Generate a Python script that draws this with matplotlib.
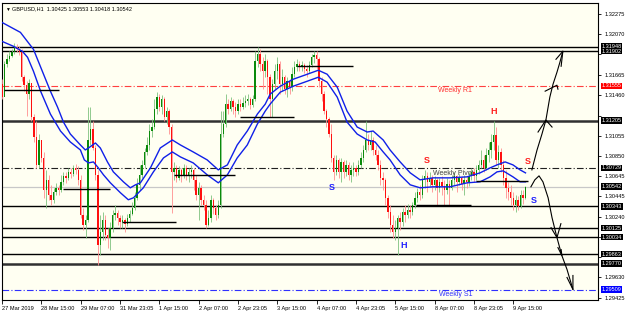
import numpy as np
import matplotlib
matplotlib.use('Agg')
import matplotlib.pyplot as plt
from matplotlib.transforms import blended_transform_factory

plt.rcParams['font.family'] = ['Liberation Sans', 'DejaVu Sans']

# ── data (GBPUSD H1) ──────────────────────────────────────────────────────────
first_open = 1.3157
close = [1.3144, 1.3177, 1.3182, 1.3185, 1.3189, 1.3194, 1.3192, 1.3189, 1.3164, 1.3156,
         1.3147, 1.3158, 1.3124, 1.3104, 1.3076, 1.3101, 1.3083, 1.3051, 1.3061, 1.3046,
         1.3041, 1.3049, 1.3053, 1.3051, 1.3059, 1.3065, 1.3063, 1.3069, 1.3067, 1.3073,
         1.3071, 1.3061, 1.3026, 1.3016, 1.3021, 1.3101, 1.3112, 1.3093, 1.3066, 1.2996,
         1.3009, 1.3021, 1.3006, 1.3003, 1.3013, 1.3026, 1.3028, 1.3023, 1.3019, 1.3021,
         1.3017, 1.3023, 1.3027, 1.3033, 1.3043, 1.3056, 1.3066, 1.3076, 1.3089, 1.3096,
         1.3110, 1.3114, 1.3132, 1.3144, 1.3134, 1.3142, 1.3124, 1.3130, 1.3114, 1.3069,
         1.3073, 1.3063, 1.3071, 1.3066, 1.3073, 1.3065, 1.3069, 1.3071, 1.3061, 1.3046,
         1.3053, 1.3041, 1.3036, 1.3016, 1.3023, 1.3041, 1.3033, 1.3026, 1.3036, 1.3107,
         1.3117, 1.3137, 1.3132, 1.3140, 1.3134, 1.3130, 1.3137, 1.3134, 1.3138, 1.3140,
         1.3142, 1.3136, 1.3142, 1.3180, 1.3187, 1.3177, 1.3170, 1.3180, 1.3164, 1.3142,
         1.3157, 1.3170, 1.3177, 1.3157, 1.3164, 1.3152, 1.3160, 1.3154, 1.3167, 1.3174,
         1.3177, 1.3174, 1.3176, 1.3172, 1.3170, 1.3176, 1.3184, 1.3186, 1.3182, 1.3160,
         1.3147, 1.3130, 1.3122, 1.3107, 1.3083, 1.3069, 1.3081, 1.3069, 1.3079, 1.3069,
         1.3076, 1.3066, 1.3071, 1.3073, 1.3069, 1.3076, 1.3083, 1.3091, 1.3101, 1.3096,
         1.3101, 1.3091, 1.3086, 1.3076, 1.3063, 1.3061, 1.3043, 1.3029, 1.3016, 1.3009,
         1.3013, 1.3023, 1.3019, 1.3029, 1.3026, 1.3031, 1.3029, 1.3036, 1.3043, 1.3049,
         1.3046, 1.3061, 1.3065, 1.3059, 1.3063, 1.3056, 1.3061, 1.3053, 1.3059, 1.3055,
         1.3051, 1.3057, 1.3053, 1.3061, 1.3065, 1.3059, 1.3063, 1.3057, 1.3061, 1.3059,
         1.3065, 1.3069, 1.3065, 1.3071, 1.3076, 1.3081, 1.3073, 1.3086, 1.3091, 1.3099,
         1.3106, 1.3081, 1.3089, 1.3076, 1.3063, 1.3053, 1.3049, 1.3043, 1.3036, 1.3041,
         1.3035, 1.3046, 1.30425, 1.30542]
high = [1.3162, 1.3180, 1.3187, 1.3190, 1.3192, 1.3198, 1.3197, 1.3195, 1.3192, 1.3166,
        1.3160, 1.3162, 1.3158, 1.3127, 1.3120, 1.3107, 1.3101, 1.3089, 1.3071, 1.3066,
        1.3056, 1.3053, 1.3058, 1.3056, 1.3066, 1.3069, 1.3069, 1.3073, 1.3073, 1.3076,
        1.3077, 1.3075, 1.3066, 1.3033, 1.3026, 1.3134, 1.3134, 1.3120, 1.3096, 1.3071,
        1.3026, 1.3029, 1.3026, 1.3013, 1.3019, 1.3031, 1.3036, 1.3031, 1.3026, 1.3026,
        1.3023, 1.3027, 1.3031, 1.3039, 1.3049, 1.3063, 1.3076, 1.3081, 1.3093, 1.3104,
        1.3117, 1.3122, 1.3142, 1.3149, 1.3147, 1.3146, 1.3144, 1.3134, 1.3132, 1.3117,
        1.3079, 1.3076, 1.3075, 1.3073, 1.3077, 1.3076, 1.3073, 1.3076, 1.3073, 1.3066,
        1.3059, 1.3056, 1.3046, 1.3041, 1.3031, 1.3046, 1.3043, 1.3036, 1.3041, 1.3130,
        1.3130, 1.3147, 1.3142, 1.3144, 1.3142, 1.3139, 1.3142, 1.3142, 1.3144, 1.3146,
        1.3147, 1.3144, 1.3146, 1.3190, 1.3194, 1.3192, 1.3184, 1.3187, 1.3182, 1.3167,
        1.3162, 1.3177, 1.3184, 1.3180, 1.3172, 1.3166, 1.3164, 1.3162, 1.3174, 1.3180,
        1.3182, 1.3180, 1.3180, 1.3178, 1.3176, 1.3180, 1.3187, 1.3190, 1.3190, 1.3184,
        1.3164, 1.3150, 1.3132, 1.3124, 1.3117, 1.3086, 1.3086, 1.3083, 1.3083, 1.3081,
        1.3081, 1.3079, 1.3076, 1.3079, 1.3076, 1.3081, 1.3089, 1.3096, 1.3120, 1.3107,
        1.3110, 1.3104, 1.3096, 1.3091, 1.3081, 1.3069, 1.3063, 1.3046, 1.3036, 1.3026,
        1.3021, 1.3026, 1.3029, 1.3033, 1.3036, 1.3037, 1.3036, 1.3039, 1.3049, 1.3053,
        1.3056, 1.3066, 1.3071, 1.3069, 1.3069, 1.3066, 1.3065, 1.3063, 1.3063, 1.3065,
        1.3061, 1.3063, 1.3061, 1.3066, 1.3069, 1.3066, 1.3067, 1.3065, 1.3066, 1.3065,
        1.3069, 1.3073, 1.3073, 1.3076, 1.3081, 1.3091, 1.3086, 1.3093, 1.3099, 1.3107,
        1.3120, 1.3114, 1.3096, 1.3093, 1.3081, 1.3071, 1.3059, 1.3056, 1.3049, 1.3046,
        1.3045, 1.3051, 1.3051, 1.30553]
low = [1.3142, 1.3147, 1.3174, 1.3180, 1.3184, 1.3187, 1.3189, 1.3186, 1.3160, 1.3150,
       1.3125, 1.3142, 1.3120, 1.3099, 1.3073, 1.3073, 1.3079, 1.3043, 1.3033, 1.3041,
       1.3036, 1.3038, 1.3046, 1.3046, 1.3049, 1.3056, 1.3058, 1.3061, 1.3063, 1.3065,
       1.3067, 1.3056, 1.3023, 1.3011, 1.3003, 1.3019, 1.3096, 1.3091, 1.3061, 1.2976,
       1.2986, 1.3001, 1.3001, 1.2993, 1.2991, 1.3009, 1.3021, 1.3016, 1.3013, 1.3013,
       1.3009, 1.3015, 1.3019, 1.3026, 1.3031, 1.3041, 1.3051, 1.3063, 1.3073, 1.3086,
       1.3091, 1.3104, 1.3112, 1.3127, 1.3130, 1.3127, 1.3120, 1.3117, 1.3107, 1.3028,
       1.3061, 1.3059, 1.3061, 1.3059, 1.3063, 1.3061, 1.3059, 1.3063, 1.3051, 1.3041,
       1.3021, 1.3036, 1.3031, 1.3013, 1.3015, 1.3019, 1.3027, 1.3021, 1.3023, 1.3033,
       1.3104, 1.3114, 1.3127, 1.3130, 1.3127, 1.3124, 1.3127, 1.3130, 1.3132, 1.3134,
       1.3136, 1.3132, 1.3134, 1.3140, 1.3174, 1.3170, 1.3152, 1.3164, 1.3147, 1.3124,
       1.3124, 1.3152, 1.3162, 1.3147, 1.3150, 1.3147, 1.3144, 1.3147, 1.3150, 1.3164,
       1.3170, 1.3170, 1.3170, 1.3168, 1.3164, 1.3168, 1.3174, 1.3178, 1.3172, 1.3154,
       1.3140, 1.3127, 1.3114, 1.3104, 1.3079, 1.3061, 1.3066, 1.3063, 1.3059, 1.3063,
       1.3065, 1.3061, 1.3059, 1.3065, 1.3065, 1.3066, 1.3073, 1.3079, 1.3089, 1.3091,
       1.3091, 1.3086, 1.3081, 1.3071, 1.3056, 1.3051, 1.3036, 1.3023, 1.3009, 1.3003,
       1.3001, 1.2986, 1.3011, 1.3015, 1.3019, 1.3023, 1.3023, 1.3026, 1.3033, 1.3039,
       1.3041, 1.3043, 1.3053, 1.3049, 1.3055, 1.3049, 1.3051, 1.3036, 1.3049, 1.3046,
       1.3036, 1.3047, 1.3036, 1.3051, 1.3056, 1.3049, 1.3056, 1.3051, 1.3046, 1.3053,
       1.3055, 1.3061, 1.3059, 1.3061, 1.3067, 1.3073, 1.3069, 1.3071, 1.3079, 1.3083,
       1.3091, 1.3076, 1.3073, 1.3069, 1.3056, 1.3043, 1.3041, 1.3036, 1.3031, 1.3029,
       1.3031, 1.3033, 1.3037, 1.30418]

# envelope (two moving averages) at these bar positions
up_ma_bar = [0, 7.5, 12.8, 16.9, 19.7, 22.6, 25.0, 27.8, 31.9, 33.9, 35.2, 38.0, 40.0, 42.9,
             45.3, 49.4, 52.2, 54.3, 56.3, 60.4, 64.4, 69.3, 72.6, 77.8, 83.5, 88.0, 91.7,
             95.7, 99.8, 103.9, 107.1, 109.1, 113.2, 118.5, 124.2, 128.7, 132.3, 136.4,
             140.4, 144.5, 148.6, 151.0, 155.1, 157.9, 162.0, 166.1, 170.1, 175.4, 182.3,
             189.2, 194.5, 198.6, 201.4, 204.7, 207.9, 210.8, 213.0]
up_ma = [1.3219, 1.3209, 1.3192, 1.3167, 1.3150, 1.3134, 1.3119, 1.3107, 1.3096, 1.3091,
         1.3093, 1.3098, 1.3093, 1.3079, 1.3069, 1.3059, 1.3053, 1.3056, 1.3058, 1.3073,
         1.3093, 1.3101, 1.3096, 1.3089, 1.3081, 1.3071, 1.3076, 1.3096, 1.3110, 1.3127,
         1.3137, 1.3147, 1.3155, 1.3162, 1.3167, 1.3171, 1.3167, 1.3154, 1.3130, 1.3114,
         1.3109, 1.3110, 1.3101, 1.3091, 1.3079, 1.3068, 1.3061, 1.3063, 1.3063, 1.3064,
         1.3068, 1.3073, 1.3076, 1.3079, 1.3076, 1.3071, 1.3068]
lo_ma_bar = [0, 4.7, 8.3, 10.4, 12.8, 15.7, 19.7, 23.8, 27.8, 31.9, 33.5, 35.2, 37.2, 39.2,
             41.3, 44.1, 48.2, 51.4, 53.5, 57.5, 61.6, 65.7, 69.3, 72.6, 77.8, 83.5, 88.0,
             91.7, 95.7, 99.8, 103.9, 107.1, 109.1, 113.2, 118.5, 124.2, 128.7, 132.3, 136.4,
             140.4, 144.5, 148.6, 151.8, 155.1, 157.9, 162.0, 166.1, 170.1, 175.4, 182.3,
             189.2, 194.5, 198.6, 201.4, 203.9, 207.9, 210.8, 213.0]
lo_ma = [1.3200, 1.3195, 1.3190, 1.3184, 1.3170, 1.3150, 1.3127, 1.3110, 1.3099, 1.3091,
         1.3081, 1.3078, 1.3079, 1.3073, 1.3066, 1.3058, 1.3048, 1.3041, 1.3043, 1.3053,
         1.3069, 1.3083, 1.3089, 1.3084, 1.3078, 1.3066, 1.3058, 1.3066, 1.3083, 1.3096,
         1.3117, 1.3130, 1.3137, 1.3149, 1.3155, 1.3160, 1.3164, 1.3159, 1.3144, 1.3119,
         1.3107, 1.3101, 1.3099, 1.3089, 1.3081, 1.3066, 1.3056, 1.3053, 1.3054, 1.3054,
         1.3058, 1.3059, 1.3064, 1.3069, 1.3070, 1.3064, 1.3059, 1.3059]

# full-width levels: (price, colour, style, width)
level_price = [1.31948, 1.31902, 1.31555, 1.31205, 1.30729, 1.30542, 1.30343,
               1.30125, 1.30034, 1.29863, 1.29770, 1.29509]
level_color = ['black', 'black', '#ff4040', '#303030', '#202020', '#c8c8c8', 'black',
               'black', 'black', 'black', '#303030', '#3030ff']
level_style = ['-', '-', '-.', '-', '-.', '-', '-', '-', '-', '-', '-', '-.']
level_width = [1.0, 1.0, 0.8, 1.8, 0.8, 0.9, 1.0, 1.0, 1.0, 1.0, 1.8, 0.8]
box_color   = ['black'] * 2 + ['#ff0000'] + ['black'] * 8 + ['#0000ff']

# short segments: start bar, end bar, price
seg_start = [1, 25, 49, 70, 97, 120, 168.5, 193]
seg_end   = [23, 44, 71, 95, 119, 143, 191, 214]
seg_price = [1.3151, 1.3052, 1.3019, 1.3066, 1.3124, 1.3175, 1.3036, 1.3060]

# hand drawn arrows (bar, price)
up_bars   = [215.6, 217.7, 219.7, 221.3, 222.9, 224.2, 225.8, 227.0, 228.2]
up_price  = [1.3071, 1.3091, 1.3107, 1.3121, 1.3144, 1.3157, 1.3169, 1.3179, 1.3190]
dn_bars   = [215.2, 216.8, 218.5, 220.1, 222.2, 223.8, 225.8, 227.8, 229.9, 232.3]
dn_price  = [1.3054, 1.3061, 1.3065, 1.3059, 1.3043, 1.3023, 1.3003, 1.2985, 1.2971, 1.2951]
head_bars  = [221.3, 225.8, 228.2, 225.8, 227.8, 232.3]
head_price = [1.3121, 1.3156, 1.3190, 1.3003, 1.2985, 1.2951]
barb_bars  = [(218.1, 223.8), (221.0, 226.2), (225.4, 227.5),
              (223.4, 227.4), (226.2, 227.5), (229.9, 232.3)]
barb_price = [(1.3109, 1.3114), (1.3150, 1.3152), (1.3182, 1.3175),
              (1.3013, 1.3017), (1.2993, 1.2991), (1.2963, 1.2965)]

# labels
lab_text  = ['S', 'H', 'S', 'H', 'S', 'S']
lab_bar   = [134.0, 163.6, 173.0, 200.2, 214.0, 216.2]
lab_price = [1.3053, 1.2995, 1.3080, 1.3130, 1.3079, 1.3040]
lab_color = ['#2020ff', '#2020ff', '#ff2020', '#ff2020', '#ff2020', '#2020ff']

x_tick_bars   = [0, 16, 32, 48, 64, 80, 96, 112, 128, 144, 160, 176, 192, 208]
x_tick_labels = ['27 Mar 2019', '28 Mar 15:00', '29 Mar 07:00', '31 Mar 23:05', '1 Apr 15:00',
                 '2 Apr 07:00', '2 Apr 23:05', '3 Apr 15:00', '4 Apr 07:00', '4 Apr 23:05',
                 '5 Apr 15:00', '8 Apr 07:00', '8 Apr 23:05', '9 Apr 15:00']
y_ticks = [1.32275, 1.32070, 1.31870, 1.31665, 1.31460, 1.31255, 1.31055, 1.30850,
           1.30645, 1.30445, 1.30240, 1.30035, 1.29835, 1.29630, 1.29425]
# tick labels hidden behind the level boxes on the price scale
y_hidden = [1.31870, 1.31255, 1.30035, 1.29835]

# ── figure ────────────────────────────────────────────────────────────────────
BG = '#fffff2'
fig = plt.figure(figsize=(6.25, 3.13), dpi=100, facecolor='white')
ax = fig.add_axes([2 / 625, 13 / 313, 596 / 625, 297 / 313], facecolor=BG)
ax.set_xlim(0, 242.5)
ax.set_ylim(1.29404, 1.32385)

bars = np.arange(len(close))
c = np.array(close)
o = np.r_[first_open, c[:-1]]
h = np.array(high)
l = np.array(low)
up = c >= o

ax.vlines(bars[up], l[up], h[up], color='#7fc27f', lw=0.6, zorder=3)
ax.vlines(bars[~up], l[~up], h[~up], color='#ff8f8f', lw=0.6, zorder=3)
ax.bar(bars[up], c[up] - o[up], bottom=o[up], width=0.55, color='#0a8a0a', lw=0, zorder=4)
ax.bar(bars[~up], c[~up] - o[~up], bottom=o[~up], width=0.55, color='#ff1010', lw=0, zorder=4)

ax.plot(up_ma_bar, up_ma, color='#1020e8', lw=1.0, zorder=5)
ax.plot(lo_ma_bar, lo_ma, color='#1020e8', lw=1.0, zorder=5)

for p, col, ls, lw in zip(level_price, level_color, level_style, level_width):
    ax.axhline(p, color=col, ls=ls, lw=lw, zorder=2,
               dashes=(6, 2, 1, 2) if ls == '-.' else (None, None))

ax.hlines(seg_price, seg_start, seg_end, color='black', lw=1.0, zorder=6)

ax.plot(up_bars, up_price, color='black', lw=0.8, zorder=7)
ax.plot(dn_bars, dn_price, color='black', lw=0.8, zorder=7)
for hb, hp, bb, bp in zip(head_bars, head_price, barb_bars, barb_price):
    ax.plot([bb[0], hb, bb[1]], [bp[0], hp, bp[1]], color='black', lw=0.8, zorder=7)

for t, b, p, col in zip(lab_text, lab_bar, lab_price, lab_color):
    ax.text(b, p, t, color=col, fontsize=6.5, fontweight='bold', ha='center', va='center',
            zorder=8)

ax.text(184.4, 1.31505, 'Weekly R1', color='#ff3030', fontsize=5, ha='center', va='center')
ax.text(183.5, 1.30675, 'Weekly Pivot', color='#404040', fontsize=5, ha='center', va='center')
ax.text(184.8, 1.29455, 'Weekly S1', color='#3030ff', fontsize=5, ha='center', va='center')

fig.text(5 / 625, 1 - 9 / 313, '\u25bc', fontsize=3.5, color='black', va='center')
fig.text(12 / 625, 1 - 9 / 313, 'GBPUSD,H1  1.30425 1.30553 1.30418 1.30542',
         fontsize=4.0, color='black', va='center')

# axes / ticks
for s in ax.spines.values():
    s.set_color('black')
    s.set_linewidth(0.8)
ax.yaxis.tick_right()
ax.set_yticks(y_ticks)
ax.set_yticklabels(['' if v in y_hidden else f'{v:.5f}' for v in y_ticks])
ax.tick_params(axis='y', direction='out', length=2.5, width=0.6, pad=2, labelsize=4.1)
ax.set_xticks(x_tick_bars)
ax.set_xticklabels(x_tick_labels)
ax.tick_params(axis='x', direction='out', length=3, width=0.6, pad=1.5, labelsize=4.1)
for lbl in ax.get_xticklabels():
    lbl.set_ha('left')

trans = blended_transform_factory(ax.transAxes, ax.transData)
for p, bc in zip(level_price, box_color):
    ax.text(1.006, p, f'{p:.5f}', transform=trans, fontsize=4.0, color='white',
            ha='left', va='center', clip_on=False, zorder=10,
            bbox=dict(boxstyle='square,pad=0.12', fc=bc, ec='none'))

fig.savefig('out.png', dpi=100, facecolor='white')
